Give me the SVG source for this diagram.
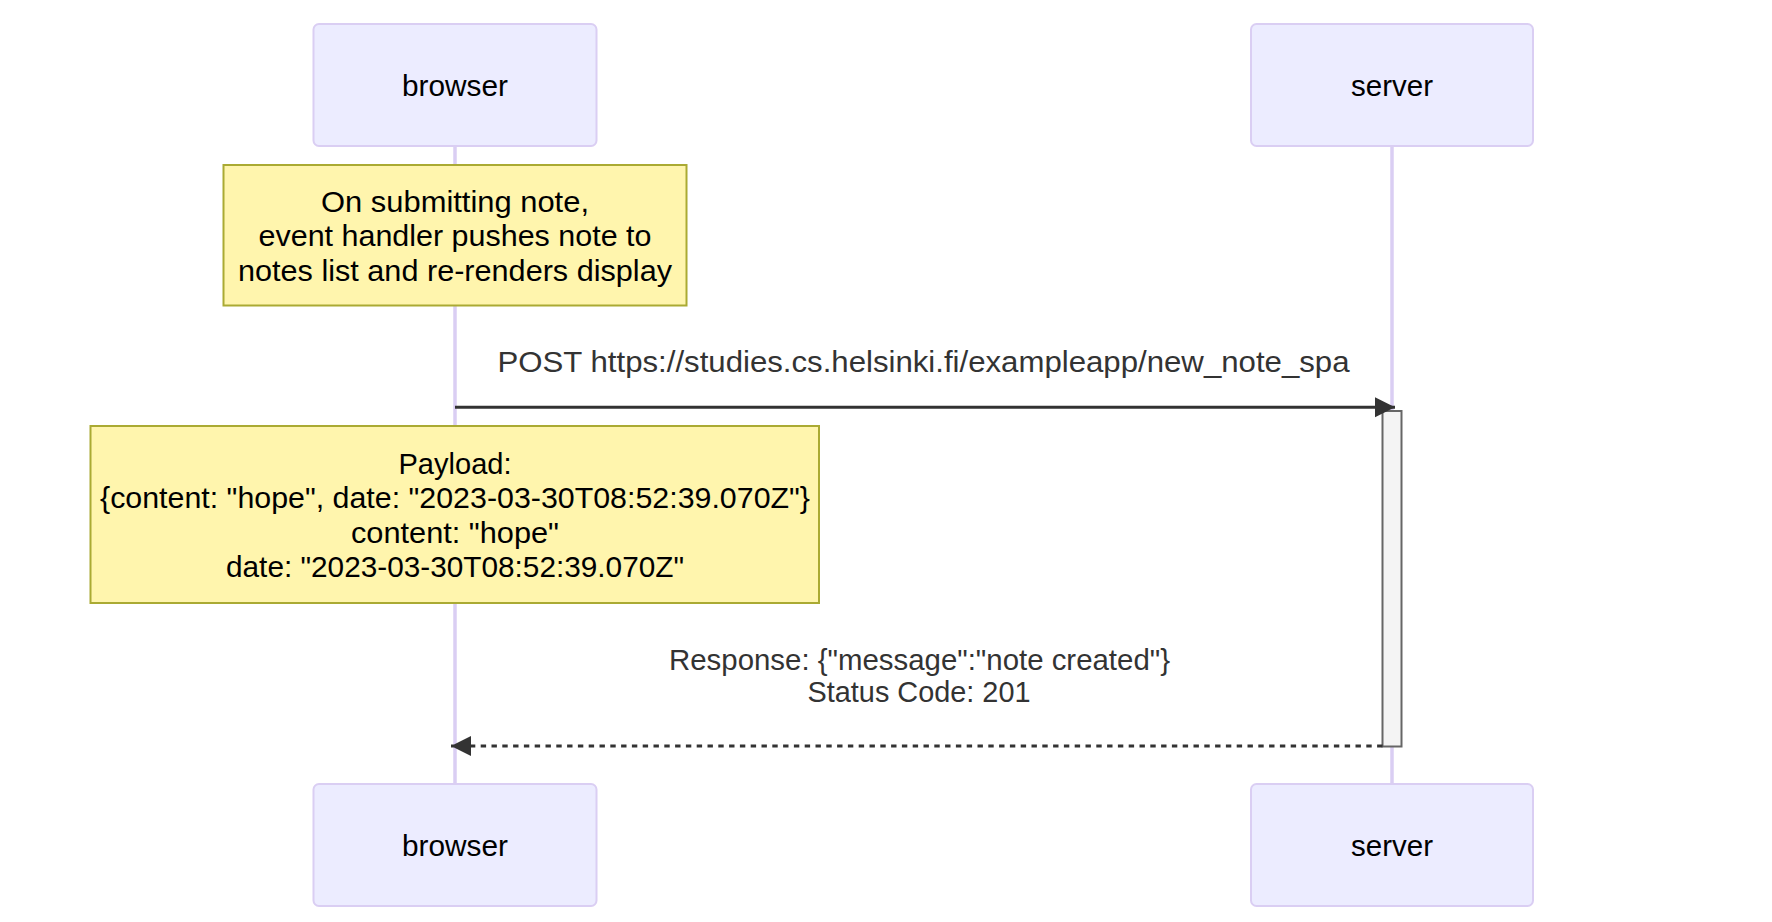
<svg xmlns="http://www.w3.org/2000/svg" width="1772" height="922" viewBox="0 0 1772 922">
  <style>
    text { font-family: "Liberation Sans", Arial, sans-serif; text-anchor: middle; }
    .actor rect { fill: #ECECFF; stroke: #DACEF3; stroke-width: 2; }
    .actor text { font-size: 30px; fill: #000000; }
    .lifeline { stroke: #DACEF3; stroke-width: 3.5; }
    .note rect { fill: #FFF5AD; stroke: #AAAA33; stroke-width: 2; }
    .note text { font-size: 30px; fill: #000000; }
    .msgtext { font-size: 29px; fill: #333333; }
    .msg { stroke: #333333; stroke-width: 3; fill: none; }
    .dashed { stroke-dasharray: 5.4 5.4; }
    .activation { fill: #F4F4F4; stroke: #666666; stroke-width: 2; }
  </style>
  <defs>
    <marker id="arrowhead" markerUnits="userSpaceOnUse" markerWidth="22" markerHeight="22" refX="20" refY="10" orient="auto" viewBox="0 0 22 22">
      <path d="M0,0 L20,10 L0,20 z" fill="#333333"/>
    </marker>
  </defs>
  <rect x="0" y="0" width="1772" height="922" fill="#FFFFFF"/>

  <g id="lifelines">
    <line class="lifeline" x1="455" y1="146" x2="455" y2="784"/>
    <line class="lifeline" x1="1392" y1="146" x2="1392" y2="784"/>
  </g>

  <g id="actor-browser-top" class="actor">
    <rect x="313.5" y="24" width="283" height="122" rx="5.5" ry="5.5"/>
    <text x="455" y="96" textLength="106" lengthAdjust="spacingAndGlyphs">browser</text>
  </g>
  <g id="actor-server-top" class="actor">
    <rect x="1251" y="24" width="282" height="122" rx="5.5" ry="5.5"/>
    <text x="1392" y="96" textLength="82" lengthAdjust="spacingAndGlyphs">server</text>
  </g>

  <g id="note-submit" class="note">
    <rect x="223.5" y="165" width="463" height="140.5"/>
    <text x="455" y="211.5" textLength="268" lengthAdjust="spacingAndGlyphs">On submitting note,</text>
    <text x="455" y="245.5" textLength="393" lengthAdjust="spacingAndGlyphs">event handler pushes note to</text>
    <text x="455" y="280.5" textLength="434" lengthAdjust="spacingAndGlyphs">notes list and re-renders display</text>
  </g>

  <g id="note-payload" class="note">
    <rect x="90.5" y="426" width="728.5" height="177"/>
    <text x="455" y="473.5" textLength="113" lengthAdjust="spacingAndGlyphs">Payload:</text>
    <text x="455" y="508" textLength="710" lengthAdjust="spacingAndGlyphs">{content: "hope", date: "2023-03-30T08:52:39.070Z"}</text>
    <text x="455" y="542.5" textLength="208" lengthAdjust="spacingAndGlyphs">content: "hope"</text>
    <text x="455" y="577" textLength="458" lengthAdjust="spacingAndGlyphs">date: "2023-03-30T08:52:39.070Z"</text>
  </g>

  <g id="activation-server">
    <rect class="activation" x="1382.5" y="411" width="19" height="335.5"/>
  </g>

  <g id="connectors">
    <g id="msg-post">
      <line class="msg" x1="455" y1="407.3" x2="1395" y2="407.3" marker-end="url(#arrowhead)"/>
      <text class="msgtext" x="923.5" y="372" textLength="852" lengthAdjust="spacingAndGlyphs">POST https://studies.cs.helsinki.fi/exampleapp/new_note_spa</text>
    </g>
    <g id="msg-response">
      <line class="msg dashed" x1="1382.5" y1="746" x2="451" y2="746" marker-end="url(#arrowhead)"/>
      <text class="msgtext" x="919.5" y="669.5" textLength="501" lengthAdjust="spacingAndGlyphs">Response: {"message":"note created"}</text>
      <text class="msgtext" x="919" y="702" textLength="223" lengthAdjust="spacingAndGlyphs">Status Code: 201</text>
    </g>
  </g>

  <g id="actor-browser-bottom" class="actor">
    <rect x="313.5" y="784" width="283" height="122" rx="5.5" ry="5.5"/>
    <text x="455" y="856" textLength="106" lengthAdjust="spacingAndGlyphs">browser</text>
  </g>
  <g id="actor-server-bottom" class="actor">
    <rect x="1251" y="784" width="282" height="122" rx="5.5" ry="5.5"/>
    <text x="1392" y="856" textLength="82" lengthAdjust="spacingAndGlyphs">server</text>
  </g>
</svg>
